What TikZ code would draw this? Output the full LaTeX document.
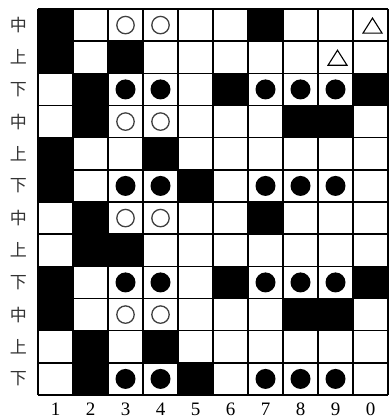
\documentclass[tikz,border=0pt]{standalone}
\usepackage{fontspec}
\setmainfont{Liberation Serif}
\newfontfamily\cjk{Noto Sans CJK SC}
\tikzset{
  gridline/.style={line width=1.6pt, line cap=square},
  blackcell/.style={fill=black},
  opencirc/.style={draw=black!75, line width=1.3pt},
  fullcirc/.style={fill=black},
  tri/.style={draw=black, line width=1.1pt, line join=miter},
  rowlab/.style={font=\cjk\fontsize{17}{17}\selectfont, text=black!80, inner sep=0pt},
  collab/.style={font=\fontsize{19}{19}\selectfont, inner sep=0pt}
}
\begin{document}
\begin{tikzpicture}[x=1pt,y=-1pt]
\useasboundingbox (0,0) rectangle (390,419);
\fill[white] (0,0) rectangle (390,419);
\begin{scope}[shift={(38,9)}, x=35pt, y=-32.1667pt]
  % black cells
  \foreach \c/\r in {1/1,7/1, 1/2,3/2, 2/3,6/3,10/3, 2/4,8/4,9/4, 1/5,4/5, 1/6,5/6,
                     2/7,7/7, 2/8,3/8, 1/9,6/9,10/9, 1/10,8/10,9/10, 2/11,4/11, 2/12,5/12}
    \fill[blackcell] (\c-1,\r-1) rectangle (\c,\r);
  % grid
  \foreach \i in {0,...,10} \draw[gridline] (\i,0) -- (\i,12);
  \foreach \j in {0,...,12} \draw[gridline] (0,\j) -- (10,\j);
  % open circles
  \foreach \r in {1,4,7,10} \foreach \c in {3,4}
    \draw[opencirc] (\c-0.5,\r-0.5) circle[radius=8.7pt];
  % filled circles
  \foreach \r in {3,6,9,12} \foreach \c in {3,4,7,8,9}
    \fill[fullcirc] (\c-0.5,\r-0.5) circle[radius=10pt];
  % triangles
  \foreach \c/\r in {10/1,9/2}
    \draw[tri] ([xshift=2pt,yshift=-8pt]\c-0.5,\r-0.5) -- ++(-9.5pt,0) -- ++(9.5pt,15pt) -- ++(9.5pt,-15pt) -- cycle;
  % row labels
  \foreach \r/\t in {1/中,2/上,3/下,4/中,5/上,6/下,7/中,8/上,9/下,10/中,11/上,12/下}
    \node[rowlab] (row\r) at (-0.56,\r-0.5) {\t};
  % column labels
  \foreach \c/\t in {1/1,2/2,3/3,4/4,5/5,6/6,7/7,8/8,9/9,10/0}
    \node[collab] (col\c) at (\c-0.5,12.44) {\t};
\end{scope}
\end{tikzpicture}
\end{document}
